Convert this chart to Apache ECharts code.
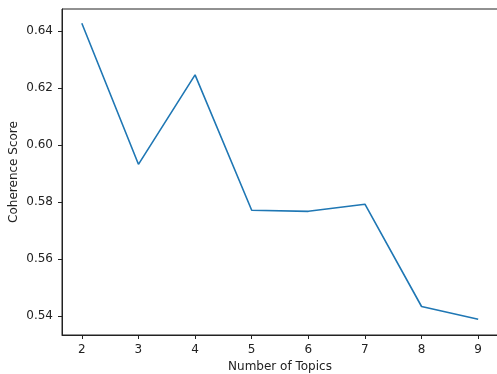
<!DOCTYPE html>
<html><head><meta charset="utf-8">
<script src="https://cdn.jsdelivr.net/npm/echarts@6/dist/echarts.min.js"></script>
<style>html,body{margin:0;padding:0;background:#fff}#c{width:497px;height:374px}</style>
</head><body><div id="c"></div>
<script>
const topics = [2, 3, 4, 5, 6, 7, 8, 9];
const coherence = [0.6427, 0.5932, 0.6246, 0.5771, 0.5767, 0.5792, 0.5433, 0.5388];
const xTicks = [2, 3, 4, 5, 6, 7, 8, 9];
const yTicks = [0.54, 0.56, 0.58, 0.60, 0.62, 0.64];

const font = 'DejaVu Sans';
const chart = echarts.init(document.getElementById('c'), null, {renderer: 'canvas'});
chart.setOption({
  animation: false,
  grid: {left: 62, top: 9, width: 436, height: 326, outerBoundsMode: 'none', containLabel: false,
         show: true, borderColor: '#222', borderWidth: 1, backgroundColor: 'transparent'},
  xAxis: {
    type: 'value', min: 1.65, max: 9.35,
    name: 'Number of Topics', nameLocation: 'middle', nameGap: 26, nameMoveOverlap: false,
    nameTextStyle: {fontFamily: font, fontSize: 12, color: '#222'},
    axisLine: {show: true, lineStyle: {color: '#222', width: 1}},
    axisTick: {show: true, length: 4, lineStyle: {color: '#222'}, customValues: xTicks},
    axisLabel: {fontFamily: font, fontSize: 12, color: '#222', margin: 9, customValues: xTicks, formatter: v => String(v)},
    splitLine: {show: false}
  },
  yAxis: {
    type: 'value', min: 0.5333, max: 0.6477,
    name: 'Coherence Score', nameLocation: 'middle', nameGap: 42, nameMoveOverlap: false,
    nameTextStyle: {fontFamily: font, fontSize: 12, color: '#222'},
    axisLine: {show: true, lineStyle: {color: '#222', width: 1}},
    axisTick: {show: true, length: 4, lineStyle: {color: '#222'}, customValues: yTicks},
    axisLabel: {fontFamily: font, fontSize: 12, color: '#222', margin: 9, customValues: yTicks, formatter: v => v.toFixed(2)},
    splitLine: {show: false}
  },
  series: [{
    type: 'line',
    data: topics.map((t, i) => [t, coherence[i]]),
    symbol: 'none',
    lineStyle: {color: '#1f77b4', width: 1.6},
    itemStyle: {color: '#1f77b4'}
  }]
});
</script></body></html>
